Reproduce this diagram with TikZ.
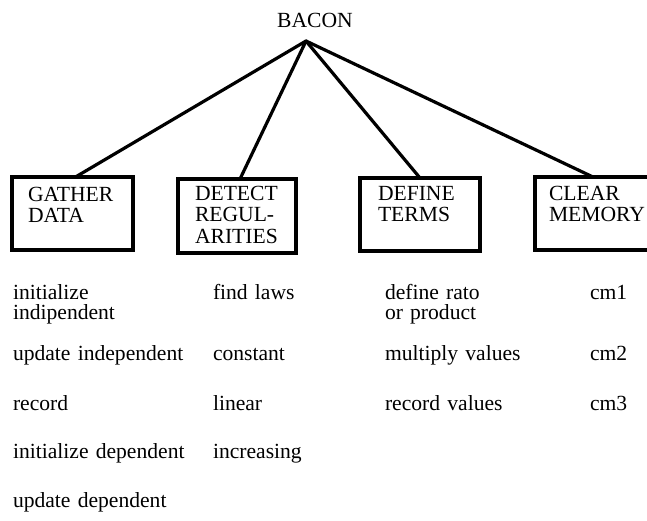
\documentclass[tikz,border=0pt]{standalone}
\usepackage{fontspec}
\setmainfont{Liberation Serif}
\usetikzlibrary{fit}
\begin{document}
\begin{tikzpicture}[x=0.75pt,y=-0.75pt,
    every node/.style={inner sep=0pt, outer sep=0pt},
    box/.style={draw, line width=2.6pt, inner sep=0pt},
    branch/.style={line width=2.4pt, line cap=round},
    boxtext/.style={anchor=base west, align=left, text width=115pt,
        font=\fontsize{16.2pt}{16.4pt}\selectfont},
    item/.style={anchor=base west, align=left, text width=150pt,
        font=\fontsize{16.2pt}{15pt}\selectfont}]
  \useasboundingbox (0,0) rectangle (647,521);
  \clip (0,0) rectangle (647,521);

  % root of the tree
  \node[anchor=base, font=\fontsize{16.2pt}{16pt}\selectfont] (bacon) at (315,27) {BACON};
  \coordinate (root) at (306,41);

  % the four subtasks
  \node[box, fit={(12,177) (133,250)}] (gather) {};
  \node[box, fit={(178,179) (296,253)}] (detect) {};
  \node[box, fit={(360,178) (480,251)}] (define) {};
  \node[box, fit={(535,177) (670,250)}] (clear) {};

  \node[boxtext] (gathertxt) at (28,201) {GATHER\\DATA};
  \node[boxtext] (detecttxt) at (195,200) {DETECT\\REGUL-\\ARITIES};
  \node[boxtext] (definetxt) at (378,200) {DEFINE\\TERMS};
  \node[boxtext] (cleartxt) at (549,200) {CLEAR\\MEMORY};

  % branches from the root
  \draw[branch] (root) -- ([xshift=2.25pt]gather.north);
  \draw[branch] (root) -- ([xshift=2.25pt]detect.north);
  \draw[branch] (root) -- (define.north);
  \draw[branch] (root) -- ([xshift=43.5pt]clear.north west);

  % operators of GATHER DATA
  \node[item] (g1) at (13,299) {initialize\\indipendent};
  \node[item] (g2) at (13,360) {update independent};
  \node[item] (g3) at (13,410) {record};
  \node[item] (g4) at (13,458) {initialize dependent};
  \node[item] (g5) at (13,507) {update dependent};

  % operators of DETECT REGULARITIES
  \node[item] (d1) at (213,299) {find laws};
  \node[item] (d2) at (213,360) {constant};
  \node[item] (d3) at (213,410) {linear};
  \node[item] (d4) at (213,458) {increasing};

  % operators of DEFINE TERMS
  \node[item] (t1) at (385,299) {define rato\\or product};
  \node[item] (t2) at (385,360) {multiply values};
  \node[item] (t3) at (385,410) {record values};

  % operators of CLEAR MEMORY
  \node[item] (c1) at (590,299) {cm1};
  \node[item] (c2) at (590,360) {cm2};
  \node[item] (c3) at (590,410) {cm3};
\end{tikzpicture}
\end{document}
